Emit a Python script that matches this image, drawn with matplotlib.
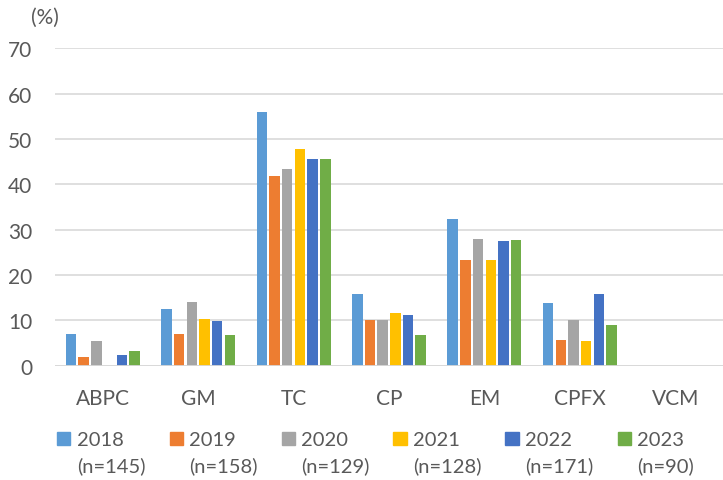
import matplotlib
matplotlib.use("Agg")
import numpy as np
import matplotlib.pyplot as plt
from matplotlib.patches import Rectangle

# ---------------------------
# data
# ---------------------------
drugs = ["ABPC", "GM", "TC", "CP", "EM", "CPFX", "VCM"]
years = ["2018", "2019", "2020", "2021", "2022", "2023"]
n_labels = ["(n=145)", "(n=158)", "(n=129)", "(n=128)", "(n=171)", "(n=90)"]

r2018 = [6.9, 12.4, 55.9, 15.9, 32.4, 13.8, 0]
r2019 = [1.9, 7.0, 41.8, 10.1, 23.4, 5.7, 0]
r2020 = [5.4, 14.0, 43.4, 10.1, 27.9, 10.1, 0]
r2021 = [0, 10.2, 47.7, 11.7, 23.4, 5.5, 0]
r2022 = [2.3, 9.9, 45.6, 11.1, 27.5, 15.8, 0]
r2023 = [3.3, 6.7, 45.6, 6.7, 27.8, 8.9, 0]
series = [r2018, r2019, r2020, r2021, r2022, r2023]

colors = ["#5B9BD5", "#ED7D31", "#A5A5A5", "#FFC000", "#4472C4", "#70AD47"]
text_color = "#595959"
grid_color = "#D9D9D9"

plt.rcParams["font.family"] = ["Lato", "DejaVu Sans"]

W, H = 723, 481
fig = plt.figure(figsize=(W / 100, H / 100), dpi=100)
ax = fig.add_axes([55 / W, (H - 366.7) / H, 1 - 55 / W, (366.7 - 49.3) / H])

x = np.arange(len(drugs))
slot = 0.133
bar_w = 0.11
for i, vals in enumerate(series):
    ax.bar(x + (i - 2.5) * slot, vals, width=bar_w, color=colors[i], zorder=3)

ax.set_xlim(-0.5, len(drugs) - 0.5)
ax.set_ylim(0, 70)
ax.set_yticks(range(0, 71, 10))
ax.set_xticks(x)
ax.set_xticklabels(drugs)
ax.yaxis.grid(True, color=grid_color, linewidth=1.2, zorder=0)
ax.axhline(0, color=grid_color, linewidth=2, zorder=4)
for s in ax.spines.values():
    s.set_visible(False)
ax.tick_params(axis="both", length=0, colors=text_color, labelsize=15)
ax.tick_params(axis="y", pad=16.5)
ax.tick_params(axis="x", pad=16)

fig.text(44.5 / W, 1 - 18 / H, "(%)", ha="center", va="center",
         fontsize=15, color=text_color)

# legend drawn by hand (two-line labels, square next to first line)
for i, (yr, nl) in enumerate(zip(years, n_labels)):
    x0 = 57.5 + 112 * i
    fig.patches.append(Rectangle((x0 / W, 1 - 446 / H), 13 / W, 13 / H,
                                 transform=fig.transFigure, color=colors[i]))
    fig.text((x0 + 19.5) / W, 1 - 446 / H, yr, ha="left", va="baseline",
             fontsize=14.5, color=text_color)
    fig.text((x0 + 19.5) / W, 1 - 472 / H, nl, ha="left", va="baseline",
             fontsize=14.5, color=text_color)

fig.savefig("out.png", dpi=100)
